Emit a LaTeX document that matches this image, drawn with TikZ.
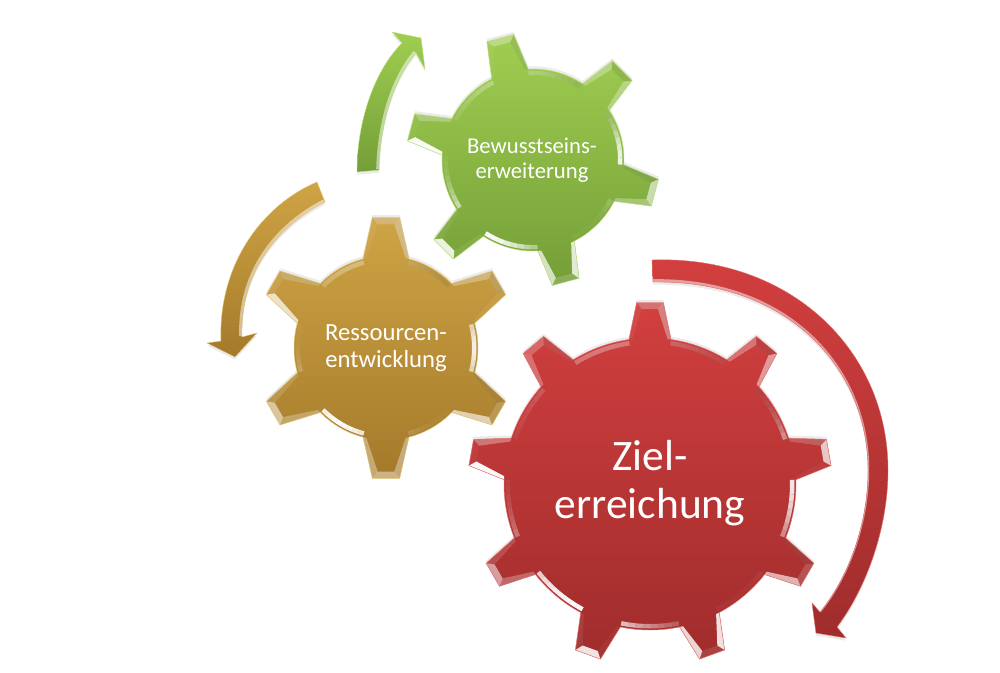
\documentclass[tikz,border=0pt]{standalone}
\usepackage{fontspec}
\setmainfont{Carlito}
\usepackage{xcolor}
\usetikzlibrary{calc}

\definecolor{gearredtop}{HTML}{D23F3F}
\definecolor{gearredbot}{HTML}{A02C2C}
\definecolor{gearredrim}{HTML}{E27070}
\definecolor{geargoldtop}{HTML}{CFA445}
\definecolor{geargoldbot}{HTML}{A47A2B}
\definecolor{geargoldrim}{HTML}{E4C878}
\definecolor{geargreentop}{HTML}{A0CE50}
\definecolor{geargreenbot}{HTML}{749E38}
\definecolor{geargreenrim}{HTML}{BEE080}

\tikzset{
    declare function={facelit(\t)=0.02+0.95*max(0,cos(\t-238))^5+0.85*max(0,cos(\t))^12+0.3*max(0,cos(\t-105))^4;
                      facedim(\t)=0.10*max(0,cos(\t-45))^2;},
    geartext/.style={white, align=center, inner sep=0pt},
}

% one bevel face, lit by the direction it looks in
\newcommand{\facet}[2]{
    \pgfmathsetmacro{\litval}{facelit(#1)}
    \pgfmathsetmacro{\dimval}{facedim(#1)}
    \fill[black, fill opacity=\dimval] #2 -- cycle;
    \fill[white, fill opacity=\litval] #2 -- cycle;
}

% centre, teeth, phase, body radius, tip radius, base half angle, tip half angle, colour
\newcommand{\gearshape}[8]{
    \begin{scope}[shift={#1}, yscale=-1]
        \def\gearoutline{(#3+360/#2-#6:#4)
            \foreach \k [evaluate=\k as \a using {#3+\k*360/#2}] in {1,...,#2} {
                -- ({\a-#6}:#4) -- ({\a-#7}:#5) -- ({\a+#7}:#5) -- ({\a+#6}:#4)
                arc[start angle={\a+#6}, delta angle={360/#2-2*#6}, radius=#4]
            } -- cycle}
        \fill[black, opacity=0.08, yshift=-2] \gearoutline;
        \path[top color=gear#8top, bottom color=gear#8bot] \gearoutline;
        \pgfmathsetmacro{\dbase}{3.5/#4*57.3}
        \pgfmathsetmacro{\dtip}{5/#5*57.3}
        \foreach \k [evaluate=\k as \a using {#3+\k*360/#2}] in {1,...,#2} {
            % tooth faces
            \facet{\a-68}{({\a-#6}:#4) -- ({\a-#7}:#5) -- ({\a-#7+\dtip}:#5-7) -- ({\a-#6+\dbase}:#4)}
            \facet{\a+68}{({\a+#6}:#4) -- ({\a+#7}:#5) -- ({\a+#7-\dtip}:#5-7) -- ({\a+#6-\dbase}:#4)}
            \facet{\a}{({\a-#7}:#5) -- ({\a+#7}:#5) -- ({\a+#7-\dtip}:#5-7) -- ({\a-#7+\dtip}:#5-7)}
            % body rim, cut in short pieces
            \pgfmathsetmacro{\arcstep}{(360/#2-2*#6)/8}
            \foreach \j in {0,...,7} {
                \pgfmathsetmacro{\ta}{\a+#6+\j*\arcstep}
                \pgfmathsetmacro{\tb}{\ta+\arcstep}
                \pgfmathsetmacro{\tm}{\ta+\arcstep/2}
                \facet{\tm}{(\ta:#4-1.5) -- (\tm:#4-1.5) -- (\tb:#4-1.5) -- (\tb:#4-6) -- (\tm:#4-6) -- (\ta:#4-6)}
            }
        }
        \draw[gear#8rim, line width=0.35pt] \gearoutline;
    \end{scope}
}

% outline, bright inner curve, colour
\newcommand{\swoosh}[3]{
    \fill[black, opacity=0.08, yshift=-2] #1;
    \path[top color=gear#3top, bottom color=gear#3bot] #1;
    \begin{scope}
        \clip #1;
        \draw[white, opacity=0.5, line width=3pt, yshift=0.6, xshift=-0.6] #2;
    \end{scope}
    \draw[gear#3rim, line width=0.3pt] #1;
}

\begin{document}
\begin{tikzpicture}[x=0.75pt, y=-0.75pt]
    \useasboundingbox (0,0) rectangle (1000,672);

    % Arrows
    \swoosh{(357,172) .. controls (357,120) and (375,70) .. (402,43) -- (392,32) -- (421,38) -- (425,69) -- (416,53)
        .. controls (393,80) and (380,125) .. (379,170) -- cycle}
        {(416,53) .. controls (393,80) and (380,125) .. (379,170)}{green}
    \swoosh{(317,182) .. controls (262,205) and (218,265) .. (221,341) -- (207,343) -- (235,357) -- (257,333) -- (242,337)
        .. controls (240,270) and (280,225) .. (325,202) -- cycle}
        {(242,337) .. controls (240,270) and (280,225) .. (325,202)}{gold}
    \swoosh{(652,260) .. controls (790,255) and (888,350) .. (888,470) .. controls (888,530) and (865,590) .. (837,627)
        -- (846,638) -- (816,633) -- (812,603) -- (820,612)
        .. controls (848,578) and (868,525) .. (868,470) .. controls (868,370) and (790,280) .. (653,282) -- cycle}
        {(820,612) .. controls (848,578) and (868,525) .. (868,470) .. controls (868,370) and (790,280) .. (653,282)}{red}

    % Gears
    \gearshape{(533,160)}{6}{105}{91}{127}{12}{6.3}{green}
    \gearshape{(386,348)}{6}{90}{92}{131}{14.5}{6}{gold}
    \gearshape{(650,484)}{9}{90}{146}{182}{8.3}{4.2}{red}

    % Labels
    \node[geartext, font=\fontsize{17}{19}\selectfont] (bewusst) at (532,160) {Bewusstseins-\\erweiterung};
    \node[geartext, font=\fontsize{18.5}{20.5}\selectfont] (ressourcen) at (386,348) {Ressourcen-\\entwicklung};
    \node[geartext, font=\fontsize{32.6}{36}\selectfont] (ziel) at (650,483) {Ziel-\\erreichung};
\end{tikzpicture}
\end{document}
